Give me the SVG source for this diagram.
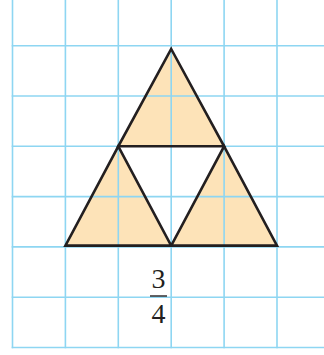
<svg xmlns="http://www.w3.org/2000/svg" width="324" height="355" viewBox="0 0 324 355">
<style>
.grid line{stroke:#8ed6f2;stroke-width:1.6}
.fill{fill:#fde3b8;stroke:none}
.edge{fill:none;stroke:#231f20;stroke-width:2.6;stroke-linejoin:miter}
.num{font-family:"Liberation Serif",serif;font-size:28px;fill:#231f20}
</style>
<rect width="324" height="355" fill="#ffffff"/>
<g id="fills">
<polygon class="fill" points="171.2,49 224.1,146.3 118.3,146.3"/>
<polygon class="fill" points="118.3,146.3 171.2,245.6 65.4,245.6"/>
<polygon class="fill" points="224.1,146.3 277,245.6 171.2,245.6"/>
</g>
<g class="grid" id="grid">
<line x1="12.5" y1="0" x2="12.5" y2="348.3"/>
<line x1="65.4" y1="0" x2="65.4" y2="348.3"/>
<line x1="118.3" y1="0" x2="118.3" y2="348.3"/>
<line x1="171.2" y1="0" x2="171.2" y2="348.3"/>
<line x1="224.1" y1="0" x2="224.1" y2="348.3"/>
<line x1="277" y1="0" x2="277" y2="348.3"/>
<line x1="11.7" y1="45.7" x2="324" y2="45.7"/>
<line x1="11.7" y1="96" x2="324" y2="96"/>
<line x1="11.7" y1="146.3" x2="324" y2="146.3"/>
<line x1="11.7" y1="196.6" x2="324" y2="196.6"/>
<line x1="11.7" y1="246.9" x2="324" y2="246.9"/>
<line x1="11.7" y1="297.2" x2="324" y2="297.2"/>
<line x1="11.7" y1="347.5" x2="324" y2="347.5"/>
</g>
<g id="triangle-top"><polygon class="edge" points="171.2,49 224.1,146.3 118.3,146.3"/></g>
<g id="triangle-left"><polygon class="edge" points="118.3,146.3 171.2,245.6 65.4,245.6"/></g>
<g id="triangle-right"><polygon class="edge" points="224.1,146.3 277,245.6 171.2,245.6"/></g>
<g id="label">
<text class="num" x="158.5" y="288" text-anchor="middle">3</text>
<line x1="150" y1="296" x2="167" y2="296" stroke="#231f20" stroke-width="1.4"/>
<text class="num" x="158.5" y="323" text-anchor="middle">4</text>
</g>
</svg>
